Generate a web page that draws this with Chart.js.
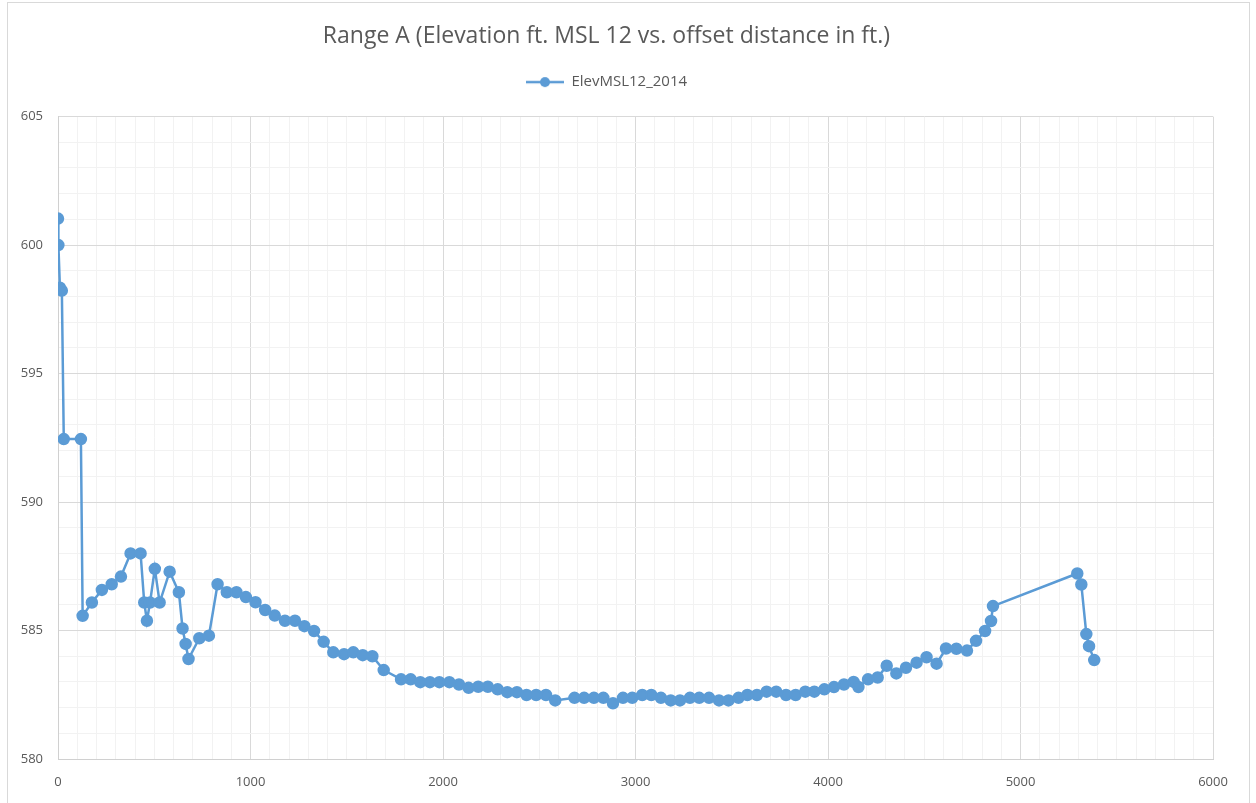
<!DOCTYPE html>
<html>
<head>
<meta charset="utf-8">
<script src="https://cdn.jsdelivr.net/npm/chart.js@4.4.1/dist/chart.umd.min.js"></script>
<style>
  html, body { margin: 0; padding: 0; background: #fff; }
  #wrap { position: absolute; left: 0; top: 0; width: 1256px; height: 803px; }
  #frame { position: absolute; left: 7px; top: 2px; width: 1241px; height: 810px; border: 1px solid #d9d9d9; pointer-events: none; }
</style>
</head>
<body>
<div id="wrap"><canvas id="profileChart"></canvas></div>
<div id="frame"></div>
<script>
// offset distance (ft) and elevation (ft MSL 12)
const distances = [0, 2, 10, 20, 30, 119, 128, 176, 228, 279, 327, 377, 429, 448, 462, 478, 503, 528, 580, 628,
  647, 663, 678, 734, 784, 829, 877, 927, 976, 1026, 1076, 1126, 1179, 1231, 1280, 1330, 1380, 1430, 1486, 1534,
  1583, 1633, 1692, 1782, 1832, 1882, 1932, 1981, 2033, 2083, 2133, 2183, 2233, 2284, 2334, 2384, 2434, 2484, 2535, 2583,
  2683, 2733, 2784, 2833, 2883, 2935, 2983, 3035, 3082, 3132, 3183, 3231, 3283, 3331, 3382, 3434, 3483, 3535, 3581, 3631,
  3681, 3731, 3782, 3832, 3882, 3929, 3981, 4031, 4083, 4133, 4158, 4208, 4258, 4305, 4355, 4405, 4460, 4512, 4564, 4613,
  4667, 4722, 4769, 4816, 4847, 4857, 5295, 5316, 5342, 5356, 5383];
const elev2014 = [601.03, 600.0, 598.34, 598.23, 592.45, 592.45, 585.57, 586.09, 586.58, 586.8, 587.1, 588.0, 588.0, 586.09, 585.38, 586.09, 587.4, 586.09, 587.29, 586.49,
  585.08, 584.48, 583.89, 584.7, 584.8, 586.8, 586.49, 586.49, 586.3, 586.1, 585.8, 585.58, 585.38, 585.38, 585.17, 584.98, 584.56, 584.15, 584.08, 584.15,
  584.04, 584.0, 583.46, 583.1, 583.1, 582.99, 582.99, 582.99, 582.99, 582.9, 582.77, 582.81, 582.81, 582.71, 582.6, 582.6, 582.49, 582.49, 582.49, 582.28,
  582.38, 582.38, 582.38, 582.38, 582.17, 582.38, 582.38, 582.49, 582.49, 582.38, 582.28, 582.28, 582.38, 582.38, 582.38, 582.28, 582.28, 582.38, 582.49, 582.49,
  582.62, 582.62, 582.49, 582.49, 582.62, 582.62, 582.71, 582.8, 582.9, 583.0, 582.8, 583.1, 583.17, 583.63, 583.33, 583.55, 583.75, 583.96, 583.71, 584.3,
  584.29, 584.22, 584.6, 584.98, 585.37, 585.95, 587.22, 586.79, 584.86, 584.39, 583.85];

const seriesName = 'ElevMSL12_2014';
const titleText = 'Range A (Elevation ft. MSL 12 vs. offset distance in ft.)';
const xMin = 0, xMax = 6000, xMajor = 1000, xMinor = 100;
const yMin = 580, yMax = 605, yMajor = 5, yMinor = 1;

const blue = '#5b9bd5';
const textGrey = '#595959';

// legend marker: short line with a dot in the middle
const legendIcon = document.createElement('canvas');
legendIcon.width = 38; legendIcon.height = 12;
const lc = legendIcon.getContext('2d');
lc.strokeStyle = blue; lc.lineWidth = 2.5;
lc.beginPath(); lc.moveTo(0, 6); lc.lineTo(38, 6); lc.stroke();
lc.fillStyle = blue;
lc.beginPath(); lc.arc(19, 6, 5, 0, Math.PI * 2); lc.fill();

// extra room under the legend, like the gap in the reference
const legendGap = {
  id: 'legendGap',
  beforeInit(chart) {
    const fit = chart.legend.fit;
    chart.legend.fit = function () {
      fit.bind(chart.legend)();
      this.height += 17;
    };
  }
};

const points = distances.map((d, i) => ({ x: d, y: elev2014[i] }));

const ctx = document.getElementById('profileChart').getContext('2d');
new Chart(ctx, {
  type: 'line',
  data: {
    datasets: [{
      label: seriesName,
      data: points,
      borderColor: blue,
      backgroundColor: blue,
      borderWidth: 2.5,
      pointRadius: 5,
      pointHoverRadius: 5,
      pointBackgroundColor: blue,
      pointBorderColor: blue,
      tension: 0
    }]
  },
  options: {
    responsive: true,
    maintainAspectRatio: false,
    animation: false,
    layout: { padding: { left: 0, right: 43, top: 12, bottom: 0 } },
    scales: {
      x: {
        type: 'linear',
        min: xMin, max: xMax,
        afterFit: s => { s.height = 44; },
        afterBuildTicks: s => {
          s.ticks = [];
          for (let v = xMin; v <= xMax; v += xMinor) s.ticks.push({ value: v });
        },
        ticks: {
          autoSkip: false, maxRotation: 0, padding: 15,
          color: textGrey, font: { family: 'Open Sans', size: 13 },
          callback: v => (v % xMajor === 0 ? v : '')
        },
        grid: {
          drawTicks: false,
          color: c => (c.tick && c.tick.value % xMajor === 0 ? '#d9d9d9' : '#f2f2f2'),
          lineWidth: 1
        },
        border: { color: '#d0d0d0' }
      },
      y: {
        min: yMin, max: yMax,
        afterFit: s => { s.width = 58; },
        afterBuildTicks: s => {
          s.ticks = [];
          for (let v = yMin; v <= yMax; v += yMinor) s.ticks.push({ value: v });
        },
        ticks: {
          autoSkip: false, padding: 15,
          color: textGrey, font: { family: 'Open Sans', size: 13 },
          callback: v => (v % yMajor === 0 ? v : '')
        },
        grid: {
          drawTicks: false,
          color: c => (c.tick && c.tick.value % yMajor === 0 ? '#d9d9d9' : '#f2f2f2'),
          lineWidth: 1
        },
        border: { color: '#d0d0d0' }
      }
    },
    plugins: {
      title: {
        display: true,
        text: titleText,
        color: textGrey,
        font: { family: 'Open Sans', size: 23, weight: 'normal' },
        padding: { top: 11, bottom: 4 }
      },
      legend: {
        display: true,
        position: 'top',
        labels: {
          usePointStyle: true,
          pointStyle: legendIcon,
          pointStyleWidth: 38,
          color: textGrey,
          font: { family: 'Open Sans', size: 15 },
          padding: 20
        }
      },
      tooltip: { enabled: false }
    }
  },
  plugins: [legendGap]
});
</script>
</body>
</html>
